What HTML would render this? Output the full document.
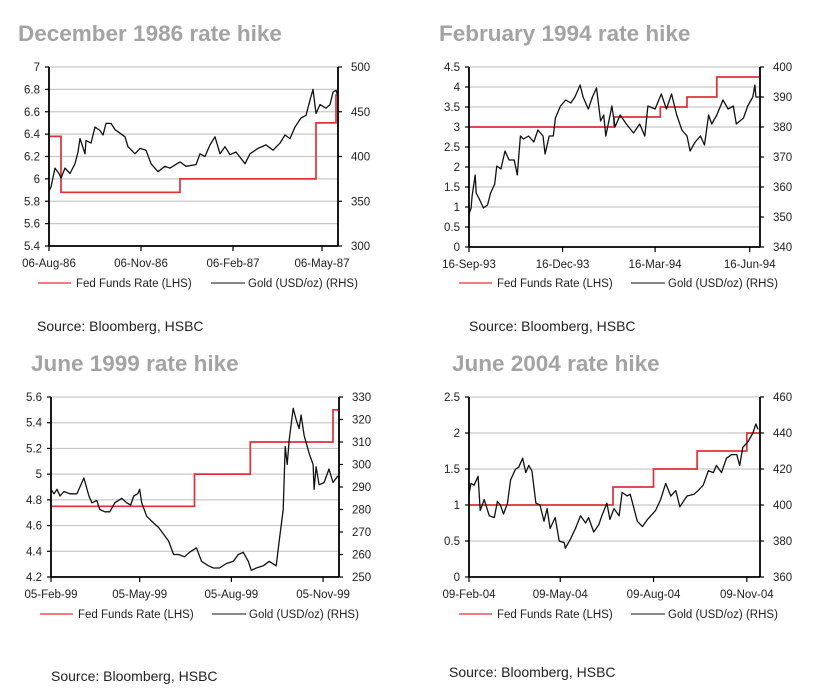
<!DOCTYPE html>
<html><head><meta charset="utf-8"><style>
html,body{margin:0;padding:0;background:#fff;}
svg{display:block;font-family:"Liberation Sans",Arial,sans-serif;}
</style></head><body>
<svg id="root" width="814" height="694" viewBox="0 0 814 694"></svg>
<script>
// ---- Chart 1: December 1986 ----
const c1Ticks=["06-Aug-86","06-Nov-86","06-Feb-87","06-May-87"];
const c1TickDays=[0,92,184,273];
const c1LeftTicks=[5.4,5.6,5.8,6,6.2,6.4,6.6,6.8,7];
const c1RightTicks=[300,350,400,450,500];
const c1FedDays=[0,12,12,131,131,267,267,287,287,289];
const c1FedVals=[6.38,6.38,5.88,5.88,6.0,6.0,6.5,6.5,6.75,6.75];
const c1GoldDays=[0,2,6,10,12,16,21,26,29,31,36,37,42,46,51,54,57,62,66,71,76,79,86,91,97,102,109,116,121,131,137,147,151,156,161,166,171,176,181,187,196,201,209,217,224,231,236,241,246,252,257,261,264,267,271,277,281,284,287,289];
const c1GoldVals=[361,366,387,381,376,387,381,392,405,420,403,418,415,433,429,424,437,437,430,426,422,411,403,409,407,392,383,389,387,394,389,391,403,400,413,422,403,411,402,405,392,403,409,413,407,415,424,420,433,443,446,463,475,448,458,454,458,472,474,467];
// ---- Chart 2: February 1994 ----
const c2Ticks=["16-Sep-93","16-Dec-93","16-Mar-94","16-Jun-94"];
const c2TickDays=[0,91,181,273];
const c2LeftTicks=[0,0.5,1,1.5,2,2.5,3,3.5,4,4.5];
const c2RightTicks=[340,350,360,370,380,390,400];
const c2FedDays=[0,141,141,186,186,212,212,241,241,282];
const c2FedVals=[3,3,3.25,3.25,3.5,3.5,3.75,3.75,4.25,4.25];
const c2GoldDays=[0,2,3,6,7,10,14,18,21,25,27,31,35,39,44,47,50,53,58,63,67,72,74,78,82,84,89,94,99,103,108,111,116,120,124,128,131,133,139,142,147,153,160,166,171,174,181,187,192,197,202,207,212,215,220,225,229,233,236,241,247,252,257,260,267,271,276,278,279,282];
const c2GoldVals=[351,353,357,364,358,356,353,354,358,361,367,366,372,369,369,364,377,376,377,375,379,377,371,377,377,383,387,389,388,390,394,390,386,390,393,382,384,377,387,380,384,381,378,381,377,387,386,391,386,391,384,379,377,372,375,377,374,384,381,384,389,386,387,381,383,387,390,394,390,390];
// ---- Chart 3: June 1999 ----
const c3Ticks=["05-Feb-99","05-May-99","05-Aug-99","05-Nov-99"];
const c3TickDays=[0,89,181,273];
const c3LeftTicks=[4.2,4.4,4.6,4.8,5,5.2,5.4,5.6];
const c3RightTicks=[250,260,270,280,290,300,310,320,330];
const c3FedDays=[0,144,144,200,200,283,283,288];
const c3FedVals=[4.75,4.75,5.0,5.0,5.25,5.25,5.5,5.5];
const c3GoldDays=[0,3,6,9,13,19,26,29,33,38,41,46,49,54,59,64,71,76,80,83,87,89,91,96,103,108,113,118,123,128,134,139,146,151,158,163,169,176,183,188,193,198,201,206,213,219,226,229,233,235,237,239,243,246,249,251,254,259,263,264,266,269,274,279,283,288];
const c3GoldVals=[289,287,289,286,288,287,287,290,294,286,283,284,280,279,279,283,285,283,282,286,287,289,283,277,274,272,269,266,260,260,259,261,263,257,255,254,254,256,257,260,261,257,253,254,255,257,255,266,280,308,300,311,325,320,316,322,313,305,300,289,299,291,292,298,292,295];
// ---- Chart 4: June 2004 ----
const c4Ticks=["09-Feb-04","09-May-04","09-Aug-04","09-Nov-04"];
const c4TickDays=[0,90,182,274];
const c4LeftTicks=[0,0.5,1,1.5,2,2.5];
const c4RightTicks=[360,380,400,420,440,460];
const c4FedDays=[0,142,142,182,182,225,225,274,274,287];
const c4FedVals=[1,1,1.25,1.25,1.5,1.5,1.75,1.75,2,2];
const c4GoldDays=[0,2,5,9,11,15,20,25,28,31,34,38,41,46,49,53,56,59,62,66,70,74,77,80,85,89,94,95,100,105,110,115,118,123,128,131,136,139,143,148,151,156,159,166,171,176,184,189,194,199,204,208,215,222,226,231,236,241,244,249,254,259,264,267,270,275,280,283,285];
const c4GoldVals=[406,412,411,416,397,403,394,393,402,400,395,401,414,420,421,426,418,422,419,401,400,391,398,387,393,380,379,376,381,387,394,390,393,385,389,394,401,392,398,394,407,405,406,391,388,392,397,403,412,405,408,399,405,406,408,411,419,418,422,418,426,428,428,422,432,435,440,445,442];

const NS="http://www.w3.org/2000/svg";
const root=document.getElementById('root');
function mk(tag,attrs,parent){const e=document.createElementNS(NS,tag);for(const k in attrs)e.setAttribute(k,attrs[k]);(parent||root).appendChild(e);return e;}

const charts=[
 {title:"December 1986 rate hike",tx:18,ty:41,L:49,R:338,T:67,B:246,maxDay:289,lmin:5.4,lmax:7,rmin:300,rmax:500,
  ticks:c1Ticks,tickDays:c1TickDays,lt:c1LeftTicks,rt:c1RightTicks,fd:c1FedDays,fv:c1FedVals,gd:c1GoldDays,gv:c1GoldVals,
  legY:287,redX:38,blkX:211,srcX:37,srcY:331},
 {title:"February 1994 rate hike",tx:439,ty:41,L:469,R:760,T:67,B:247,maxDay:283,lmin:0,lmax:4.5,rmin:340,rmax:400,
  ticks:c2Ticks,tickDays:c2TickDays,lt:c2LeftTicks,rt:c2RightTicks,fd:c2FedDays,fv:c2FedVals,gd:c2GoldDays,gv:c2GoldVals,
  legY:287,redX:459,blkX:631,srcX:469,srcY:331},
 {title:"June 1999 rate hike",tx:31,ty:371,L:51,R:339,T:397,B:577,maxDay:289,lmin:4.2,lmax:5.6,rmin:250,rmax:330,
  ticks:c3Ticks,tickDays:c3TickDays,lt:c3LeftTicks,rt:c3RightTicks,fd:c3FedDays,fv:c3FedVals,gd:c3GoldDays,gv:c3GoldVals,
  legY:618,redX:40,blkX:212,srcX:51,srcY:681},
 {title:"June 2004 rate hike",tx:452,ty:371,L:469,R:760,T:397,B:577,maxDay:287,lmin:0,lmax:2.5,rmin:360,rmax:460,
  ticks:c4Ticks,tickDays:c4TickDays,lt:c4LeftTicks,rt:c4RightTicks,fd:c4FedDays,fv:c4FedVals,gd:c4GoldDays,gv:c4GoldVals,
  legY:618,redX:459,blkX:631,srcX:449,srcY:677}
];

charts.forEach((c,i)=>{
  const g=mk('g',{});
  
  
  const xs=d=>c.L+(d/c.maxDay)*(c.R-c.L);
  const yl=v=>c.B-(v-c.lmin)/(c.lmax-c.lmin)*(c.B-c.T);
  const yr=v=>c.B-(v-c.rmin)/(c.rmax-c.rmin)*(c.B-c.T);
  const t=mk('text',{x:c.tx,y:c.ty,'font-size':22.5,'font-weight':'bold',fill:'#a3a3a3'},g);
  t.textContent=c.title;
  
  
  c.lt.forEach(v=>{
    const y=yl(v);
    const gl=mk('line',{x1:c.L,x2:c.R,y1:y,y2:y,stroke:'#c8c8c8','stroke-width':1.2},g);
    
    
    mk('line',{x1:c.L-4,x2:c.L,y1:y,y2:y,stroke:'#000','stroke-width':1.2},g);
    const lt=mk('text',{x:c.L-9,y:y+4,'font-size':11.5,'text-anchor':'end',fill:'#222'},g);
    lt.textContent=String(v);
    
    
  });
  c.rt.forEach(v=>{
    const y=yr(v);
    mk('line',{x1:c.R,x2:c.R+4,y1:y,y2:y,stroke:'#000','stroke-width':1.2},g);
    const rt=mk('text',{x:c.R+13,y:y+4,'font-size':11.5,fill:'#222'},g);
    rt.textContent=String(v);
    
    
  });
  c.ticks.forEach((lab,k)=>{
    const x=xs(c.tickDays[k]);
    mk('line',{x1:x,x2:x,y1:c.B,y2:c.B+5,stroke:'#000','stroke-width':1.2},g);
    const xt=mk('text',{x:x,y:c.B+21,'font-size':11.5,'text-anchor':'middle',fill:'#222'},g);
    xt.textContent=lab;
    
    
  });
  const fp=c.fd.map((d,k)=>xs(d).toFixed(1)+','+yl(c.fv[k]).toFixed(1)).join(' ');
  const fed=mk('polyline',{points:fp,fill:'none',stroke:'#e0303a','stroke-width':1.7},g);
  
  
  const gp=c.gd.map((d,k)=>xs(d).toFixed(1)+','+yr(c.gv[k]).toFixed(1)).join(' ');
  const gold=mk('polyline',{points:gp,fill:'none',stroke:'#111','stroke-width':1.3,'stroke-linejoin':'round'},g);
  
  
  mk('line',{x1:c.L,x2:c.L,y1:c.T,y2:c.B,stroke:'#000','stroke-width':1.8},g);
  mk('line',{x1:c.R,x2:c.R,y1:c.T,y2:c.B,stroke:'#000','stroke-width':1.8},g);
  mk('line',{x1:c.L,x2:c.R,y1:c.B,y2:c.B,stroke:'#000','stroke-width':1.8},g);
  const l1=mk('g',{},g);
  
  
  mk('line',{x1:c.redX,x2:c.redX+33,y1:c.legY-4,y2:c.legY-4,stroke:'#e0303a','stroke-width':1.3},l1);
  const lt1=mk('text',{x:c.redX+38,y:c.legY,'font-size':11.5,fill:'#222'},l1);
  lt1.textContent='Fed Funds Rate (LHS)';
  const l2=mk('g',{},g);
  
  
  mk('line',{x1:c.blkX,x2:c.blkX+34,y1:c.legY-4,y2:c.legY-4,stroke:'#111','stroke-width':1},l2);
  const lt2=mk('text',{x:c.blkX+37,y:c.legY,'font-size':11.5,fill:'#222'},l2);
  lt2.textContent='Gold (USD/oz) (RHS)';
  const s=mk('text',{x:c.srcX,y:c.srcY,'font-size':14,fill:'#222'},g);
  s.textContent='Source: Bloomberg, HSBC';
  
  
});
</script>
</body></html>
